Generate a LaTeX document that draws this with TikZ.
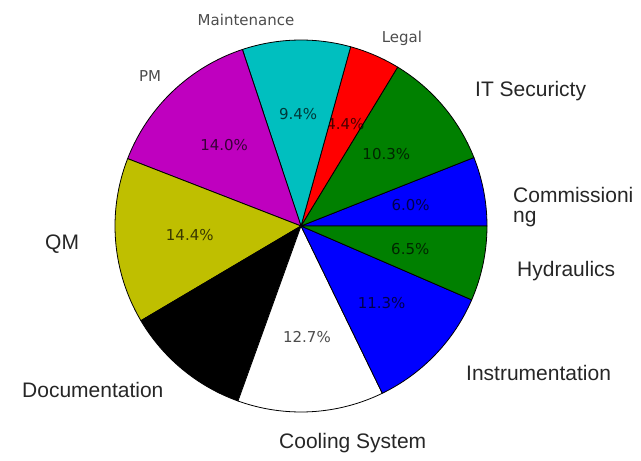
\documentclass[tikz,border=0pt]{standalone}
\usepackage{fontspec}
\setmainfont{Liberation Sans}
\newfontfamily\mplfont{DejaVu Sans}
\definecolor{pieb}{rgb}{0,0,1}
\definecolor{pieg}{rgb}{0,0.5,0}
\definecolor{pier}{rgb}{1,0,0}
\definecolor{piec}{rgb}{0,0.75,0.75}
\definecolor{piem}{rgb}{0.75,0,0.75}
\definecolor{piey}{rgb}{0.75,0.75,0}
\tikzset{
	wedge/.style={draw=black, line width=0.8pt, line join=round},
	pct/.style={font=\mplfont\fontsize{15}{18}\selectfont, text=black, text opacity=0.7},
	lbl/.style={font=\fontsize{21}{20}\selectfont, text=black!85, inner sep=0pt},
	mpllbl/.style={font=\mplfont\fontsize{15}{18}\selectfont, text=black!70, inner sep=0pt}
}
\begin{document}
\begin{tikzpicture}[x=1pt,y=1pt,line cap=round]
		\useasboundingbox (-301,-235) rectangle (340,226);
		\foreach \a/\b/\col/\pc [count=\i] in {0/21.6/pieb/6.0\%, 21.6/58.68/pieg/10.3\%,
			58.68/74.52/pier/4.4\%, 74.52/108.36/piec/9.4\%, 108.36/158.76/piem/14.0\%,
			158.76/210.6/piey/14.4\%, 210.6/250.2/black/{}, 250.2/295.92/white/12.7\%,
			295.92/336.6/pieb/11.3\%, 336.6/360/pieg/6.5\%}{
			\draw[wedge, fill=\col] (0,0) -- (\a:186) arc (\a:\b:186) -- cycle;
			\node[pct] (pct\i) at ({(\a+\b)/2}:111.6) {\pc};}
		% labels round the pie
		\node[mpllbl, anchor=base] (maint) at (-55,200) {Maintenance};
		\node[mpllbl, anchor=base] (pm) at (-151,144) {PM};
		\node[mpllbl, anchor=base] (legal) at (101,183) {Legal};
		\node[lbl, anchor=base west] (itsec) at (174,129) {IT Securicty};
		\node[lbl, anchor=base west, align=left] (comm) at (212,4) {Commissioni\\ng};
		\node[lbl, anchor=base west] (hydr) at (216,-50) {Hydraulics};
		\node[lbl, anchor=base west] (instr) at (165,-154) {Instrumentation};
		\node[lbl, anchor=base west] (cool) at (-22,-222) {Cooling System};
		\node[lbl, anchor=base west] (doc) at (-279,-171) {Documentation};
		\node[lbl, anchor=base west] (qm) at (-256,-23) {QM};
\end{tikzpicture}
\end{document}
